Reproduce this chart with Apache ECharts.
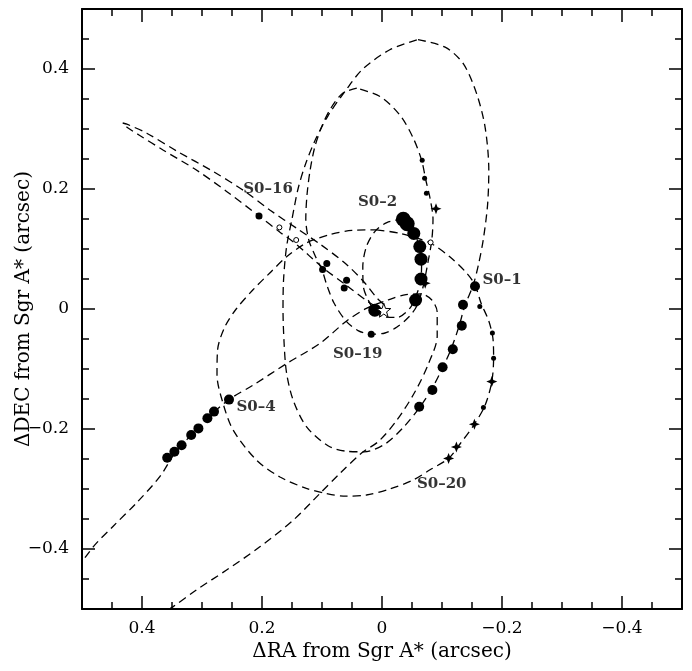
<!DOCTYPE html>
<html><head><meta charset="utf-8">
<script src="https://cdn.jsdelivr.net/npm/echarts@6/dist/echarts.min.js"></script>
<style>html,body{margin:0;padding:0;background:#fff}#c{width:692px;height:671px}</style>
</head><body><div id="c"></div>
<script>
// ---- tick values ----
const majorTicks = [-0.4, -0.2, 0, 0.2, 0.4];
const minorTicks = [-0.45, -0.35, -0.3, -0.25, -0.15, -0.1, -0.05, 0.05, 0.1, 0.15, 0.25, 0.3, 0.35, 0.45];

// ---- orbit curves (RA offset, DEC offset) ----
const orbitS01 = [[-0.06,0.449],[-0.106,0.436],[-0.136,0.408],[-0.158,0.358],[-0.172,0.302],[-0.178,0.231],[-0.176,0.174],[-0.169,0.117],[-0.161,0.075],[-0.152,0.04],[-0.138,0.005],[-0.128,-0.03],[-0.115,-0.067],[-0.1,-0.1],[-0.082,-0.135],[-0.062,-0.165],[-0.035,-0.198],[-0.005,-0.225],[0.03,-0.238],[0.06,-0.237],[0.09,-0.228],[0.126,-0.196],[0.148,-0.152],[0.159,-0.107],[0.163,-0.06],[0.165,0.0],[0.164,0.05],[0.159,0.104],[0.15,0.15],[0.14,0.2],[0.128,0.24],[0.112,0.28],[0.09,0.322],[0.06,0.365],[0.032,0.4],[-0.013,0.432],[-0.06,0.449]];
const orbitS02 = [[-0.0355,0.1495],[-0.008,0.144],[0.012,0.129],[0.026,0.104],[0.032,0.07],[0.031,0.037],[0.023,0.015],[0.012,-0.003],[-0.002,-0.013],[-0.025,-0.014],[-0.047,0.002],[-0.058,0.025],[-0.065,0.05],[-0.066,0.083],[-0.063,0.104],[-0.053,0.126],[-0.0355,0.1495]];
const orbitS019 = [[0.042,0.368],[0.065,0.36],[0.085,0.335],[0.1,0.305],[0.112,0.27],[0.12,0.23],[0.125,0.19],[0.127,0.15],[0.122,0.115],[0.112,0.09],[0.1,0.065],[0.092,0.04],[0.08,0.01],[0.06,-0.02],[0.04,-0.036],[0.018,-0.042],[-0.005,-0.04],[-0.025,-0.03],[-0.045,-0.013],[-0.058,0.005],[-0.068,0.035],[-0.077,0.08],[-0.083,0.115],[-0.085,0.15],[-0.08,0.185],[-0.073,0.215],[-0.066,0.248],[-0.052,0.285],[-0.03,0.323],[0.003,0.354],[0.042,0.368]];
const orbitS020 = [[0.009,0.132],[-0.03,0.126],[-0.08,0.11],[-0.113,0.087],[-0.141,0.06],[-0.155,0.04],[-0.165,0.01],[-0.178,-0.02],[-0.185,-0.05],[-0.186,-0.082],[-0.183,-0.121],[-0.172,-0.16],[-0.154,-0.192],[-0.13,-0.225],[-0.111,-0.249],[-0.08,-0.268],[-0.052,-0.285],[-0.013,-0.3],[0.026,-0.31],[0.06,-0.312],[0.095,-0.307],[0.126,-0.299],[0.17,-0.28],[0.209,-0.252],[0.248,-0.202],[0.265,-0.157],[0.275,-0.11],[0.274,-0.068],[0.262,-0.03],[0.243,0.0],[0.215,0.032],[0.187,0.06],[0.159,0.087],[0.126,0.11],[0.087,0.124],[0.05,0.131],[0.009,0.132]];
const orbitS04 = [[0.52,-0.45],[0.481,-0.396],[0.448,-0.362],[0.409,-0.323],[0.37,-0.279],[0.345,-0.24],[0.318,-0.21],[0.291,-0.182],[0.255,-0.151],[0.215,-0.127],[0.159,-0.091],[0.103,-0.057],[0.059,-0.02],[0.026,0.001],[-0.01,0.015],[-0.04,0.024],[-0.065,0.025],[-0.083,0.015],[-0.092,-0.005],[-0.092,-0.045],[-0.078,-0.09],[-0.055,-0.138],[-0.025,-0.185],[0.005,-0.22],[0.034,-0.24],[0.07,-0.274],[0.103,-0.307],[0.148,-0.352],[0.203,-0.396],[0.259,-0.435],[0.309,-0.468],[0.348,-0.496],[0.37,-0.51]];
const orbitS016 = [[-0.008,-0.004],[0.02,0.01],[0.06,0.04],[0.1,0.07],[0.143,0.108],[0.17,0.128],[0.205,0.155],[0.259,0.196],[0.31,0.232],[0.365,0.265],[0.405,0.29],[0.425,0.303],[0.432,0.31],[0.425,0.308],[0.392,0.293],[0.34,0.262],[0.281,0.229],[0.23,0.197],[0.187,0.165],[0.14,0.133],[0.103,0.108],[0.06,0.075],[0.03,0.045],[0.01,0.02],[-0.005,0.005],[-0.008,-0.004]];

// ---- data points ----
const s02Large = [[-0.0355,0.1495],[-0.042,0.142]];
const s02Points = [[-0.053,0.126],[-0.063,0.104],[-0.065,0.083],[-0.065,0.05],[-0.056,0.015],[0.012,-0.002]];
const s01Points = [[-0.155,0.038],[-0.135,0.007],[-0.133,-0.028],[-0.118,-0.067],[-0.101,-0.097],[-0.084,-0.135],[-0.062,-0.163]];
const s04Points = [[0.358,-0.248],[0.346,-0.238],[0.334,-0.227],[0.318,-0.21],[0.306,-0.199],[0.291,-0.182],[0.28,-0.171],[0.255,-0.151]];
const midDots = [[0.205,0.155],[0.092,0.076],[0.099,0.066],[0.059,0.048],[0.063,0.035],[0.018,-0.042]];
const smallDots = [[-0.067,0.248],[-0.071,0.218],[-0.074,0.193],[-0.163,0.004],[-0.184,-0.04],[-0.186,-0.082],[-0.169,-0.164]];
const starPoints = [[-0.09,0.167],[-0.072,0.043],[-0.183,-0.121],[-0.154,-0.192],[-0.124,-0.23],[-0.111,-0.249]];
const openCircles = [[0.171,0.136],[0.143,0.115],[-0.081,0.111]];
const sgrA = [[-0.003,-0.002]];

// ---- star labels ----
const labelNames = ['S0\u201316','S0\u20132','S0\u20131','S0\u201319','S0\u20134','S0\u201320'];
const labelX = [0.19, 0.0075, -0.2, 0.0405, 0.21, -0.0995];
const labelY = [0.2, 0.178, 0.048, -0.075, -0.163, -0.2925];

const FONT = 'DejaVu Serif';
function fmt(v){ if (Math.abs(v) < 1e-9) return '0'; return v < 0 ? '\u2212' + String(Math.abs(v)) : String(v); }

function axis(kind, pos, ticks, len, labels, line){
  const a = {
    type: 'value', min: -0.5, max: 0.5, position: pos,
    axisLine: { show: line, onZero: false, lineStyle: { color: '#000', width: 2 } },
    axisTick: { show: true, inside: true, length: len, customValues: ticks, lineStyle: { color: '#000', width: 1.5 } },
    axisLabel: { show: labels, customValues: majorTicks, formatter: fmt, color: '#000', fontFamily: FONT, fontSize: 17, margin: kind === 'x' ? 11 : 13 },
    splitLine: { show: false },
    nameMoveOverlap: false
  };
  if (kind === 'x') a.inverse = true;
  return a;
}

const xAxes = [
  axis('x','bottom',majorTicks,13,true,true),
  axis('x','bottom',minorTicks,7,false,false),
  axis('x','top',majorTicks,13,false,true),
  axis('x','top',minorTicks,7,false,false)
];
xAxes[0].name = '\u0394RA from Sgr A* (arcsec)';
xAxes[0].nameLocation = 'middle';
xAxes[0].nameGap = 33;
xAxes[0].nameTextStyle = { fontFamily: FONT, fontSize: 20, color: '#000' };

const yAxes = [
  axis('y','left',majorTicks,13,true,true),
  axis('y','left',minorTicks,7,false,false),
  axis('y','right',majorTicks,13,false,true),
  axis('y','right',minorTicks,7,false,false)
];
yAxes[0].name = '\u0394DEC from Sgr A* (arcsec)';
yAxes[0].nameLocation = 'middle';
yAxes[0].nameGap = 48;
yAxes[0].nameTextStyle = { fontFamily: FONT, fontSize: 20, color: '#000' };

const dash = { color: '#000', width: 1.3, type: [8, 5] };
function orbit(d){ return { type: 'line', data: d, showSymbol: false, smooth: 0.3, lineStyle: dash, silent: true, z: 2, animation: false }; }
function pts(d, size, extra){ return Object.assign({ type: 'scatter', data: d, symbol: 'circle', symbolSize: size, itemStyle: { color: '#000', opacity: 1 }, silent: true, z: 4, animation: false }, extra || {}); }

const starPath = 'path://M0,-10L2.8,-2.8L10,0L2.8,2.8L0,10L-2.8,2.8L-10,0L-2.8,-2.8Z';
const star5 = 'path://M0,-10L2.35,-3.24L9.51,-3.09L3.8,1.24L5.88,8.09L0,4L-5.88,8.09L-3.8,1.24L-9.51,-3.09L-2.35,-3.24Z';

const chart = echarts.init(document.getElementById('c'), null, { renderer: 'canvas' });
chart.setOption({
  animation: false,
  backgroundColor: '#fff',
  grid: { left: 82, top: 9, width: 600, height: 600, containLabel: false, outerBoundsMode: 'none' },
  xAxis: xAxes,
  yAxis: yAxes,
  series: [
    orbit(orbitS01), orbit(orbitS02), orbit(orbitS019), orbit(orbitS020), orbit(orbitS04), orbit(orbitS016),
    pts(s02Large, 15), pts(s02Points, 13), pts(s01Points, 10), pts(s04Points, 10),
    pts(midDots, 7), pts(smallDots, 5),
    pts(starPoints, 11, { symbol: starPath }),
    pts(openCircles, 5, { itemStyle: { color: '#fff', borderColor: '#000', borderWidth: 1, opacity: 1 } }),
    pts(sgrA, 14, { symbol: star5, itemStyle: { color: '#fff', borderColor: '#000', borderWidth: 1, opacity: 1 }, z: 5 }),
    { type: 'scatter', data: labelNames.map((n, i) => ({ name: n, value: [labelX[i], labelY[i]] })), symbolSize: 1,
      itemStyle: { color: 'rgba(0,0,0,0)' }, silent: true, z: 6,
      label: { show: true, position: 'inside', formatter: p => p.name, color: '#000', fontFamily: FONT, fontSize: 15, fontWeight: 'bold' } }
  ]
});
</script></body></html>
